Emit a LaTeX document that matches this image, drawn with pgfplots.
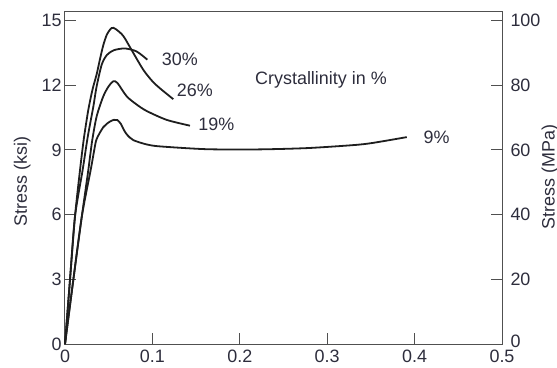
\documentclass[border=0pt]{standalone}
\usepackage{pgfplots}
\pgfplotsset{compat=1.18}
\usepackage{fontspec}
\setmainfont{Liberation Sans}
\definecolor{txt}{RGB}{45,45,60}
\definecolor{crv}{RGB}{30,30,30}
\definecolor{axc}{RGB}{80,80,80}
\begin{document}
\begin{tikzpicture}
\useasboundingbox (-65bp,-24bp) rectangle (492bp,344bp);
\pgfplotsset{
  common/.style={
    at={(0,0)}, anchor=south west, scale only axis, width=437bp, height=332bp,
    xmin=0, xmax=0.5,
    tick align=inside, major tick length=11bp,
    tick style={axc, line width=1bp},
    axis line style={axc, line width=1bp},
    tick label style={font=\fontsize{18}{18}\selectfont, text=txt},
    label style={font=\fontsize{18}{18}\selectfont, text=txt},
    /pgf/number format/assume math mode=true,
  }
}
\begin{axis}[common, ymin=0, ymax=15.39,
  xtick={0,0.1,0.2,0.3,0.4,0.5}, xticklabels={0,0.1,0.2,0.3,0.4,0.5},
  xticklabel style={yshift=-2bp},
  xtick pos=bottom, ytick={0,3,6,9,12,15}, ytick pos=left,
  ylabel={Stress (ksi)},
  ylabel style={at={(axis description cs:-0.098,0.49)}, anchor=center},
  clip=false]
\addplot[crv, line width=1.8bp, smooth, tension=0.45] coordinates {
(0,0) (0.0057,2.97) (0.0114,5.9) (0.0172,8.07) (0.0215,9.5) (0.0267,10.86)
(0.0315,11.8) (0.0362,12.5) (0.040,13.2) (0.0438,13.85) (0.048,14.35)
(0.0534,14.65) (0.058,14.6) (0.0667,14.28) (0.0763,13.62) (0.0896,12.71)
(0.1,12.18) (0.1087,11.85) (0.1239,11.35)};
\addplot[crv, line width=1.8bp, smooth, tension=0.45] coordinates {
(0,0) (0.0057,2.97) (0.0114,5.9) (0.0202,8.07) (0.026,9.6) (0.0324,11.0)
(0.036,11.9) (0.042,12.95) (0.048,13.4) (0.056,13.62) (0.0686,13.7)
(0.082,13.56) (0.0942,13.18)};
\addplot[crv, line width=1.8bp, smooth, tension=0.45] coordinates {
(0,0) (0.0095,2.97) (0.0192,5.9) (0.0267,8.07) (0.031,9.4) (0.0362,10.55)
(0.0438,11.48) (0.05,11.95) (0.0553,12.18) (0.06,12.1) (0.0706,11.48)
(0.082,11.1) (0.0935,10.8) (0.1163,10.39) (0.143,10.12)};
\addplot[crv, line width=1.8bp, smooth, tension=0.45] coordinates {
(0,0) (0.0095,2.97) (0.0192,5.9) (0.0294,8.07) (0.0335,9.0) (0.0362,9.5)
(0.0438,10.05) (0.051,10.3) (0.056,10.39) (0.060,10.38) (0.064,10.2)
(0.067,9.95) (0.071,9.7) (0.0782,9.45) (0.0935,9.25) (0.1087,9.16)
(0.162,9.03) (0.22,9.02) (0.2765,9.08) (0.33,9.22) (0.352,9.32) (0.391,9.59)};
\node[anchor=west, inner sep=0pt, font=\fontsize{18}{18}\selectfont, text=txt] at (axis cs:0.1106,13.18) {30\%};
\node[anchor=west, inner sep=0pt, font=\fontsize{18}{18}\selectfont, text=txt] at (axis cs:0.1277,11.74) {26\%};
\node[anchor=west, inner sep=0pt, font=\fontsize{18}{18}\selectfont, text=txt] at (axis cs:0.1525,10.16) {19\%};
\node[anchor=west, inner sep=0pt, font=\fontsize{18}{18}\selectfont, text=txt] at (axis cs:0.41,9.58) {9\%};
\node[anchor=west, inner sep=0pt, font=\fontsize{18}{18}\selectfont, text=txt] at (axis cs:0.2174,12.25) {Crystallinity in \%};
\end{axis}
\begin{axis}[common, ymin=0, ymax=102.6,
  xtick=\empty, axis line style={draw=none},
  ytick={0,20,40,60,80,100}, ytick pos=right, yticklabel pos=right,
  yticklabels={\raisebox{6bp}{0},20,40,60,80,100},
  yticklabel style={xshift=5bp},
  ylabel={Stress (MPa)},
  ylabel style={at={(axis description cs:1.11,0.503)}, anchor=center, rotate=0}]
\end{axis}
\end{tikzpicture}
\end{document}
